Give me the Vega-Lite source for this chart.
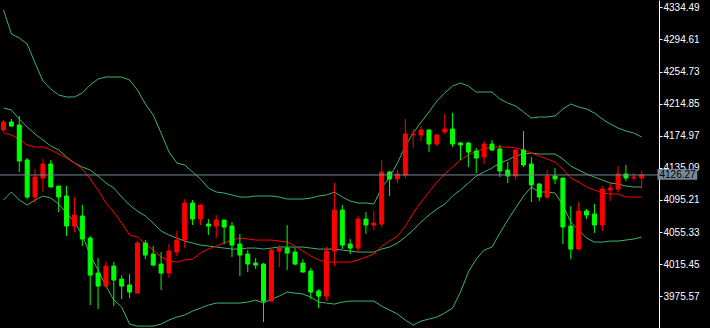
{
  "$schema": "https://vega.github.io/schema/vega-lite/v6.json",
  "width": 659,
  "height": 328,
  "autosize": {"type": "none"},
  "padding": {"left": 0, "top": 0, "right": 51, "bottom": 0},
  "background": "#000000",
  "config": {"view": {"stroke": null}, "axisY": {"labelOverlap": false, "labelBound": false, "labelFlush": false}},
  "datasets": {
    "bars": [
      {"i": -1, "o": 4182.10, "h": 4194.53, "l": 4179.62, "c": 4192.04, "u": 4331.14, "m": 4209.44, "lo": 4095.13, "ma": 4178.38},
      {"i": 0, "o": 4192.04, "h": 4195.77, "l": 4185.83, "c": 4187.07, "u": 4301.34, "m": 4206.95, "lo": 4105.07, "ma": 4175.89},
      {"i": 1, "o": 4188.31, "h": 4199.50, "l": 4129.92, "c": 4143.59, "u": 4296.37, "m": 4195.77, "lo": 4095.13, "ma": 4170.92},
      {"i": 2, "o": 4144.83, "h": 4147.31, "l": 4096.37, "c": 4098.86, "u": 4288.91, "m": 4185.83, "lo": 4088.92, "ma": 4163.47},
      {"i": 3, "o": 4098.86, "h": 4133.65, "l": 4091.40, "c": 4123.71, "u": 4265.32, "m": 4177.13, "lo": 4095.13, "ma": 4160.98},
      {"i": 4, "o": 4122.46, "h": 4146.07, "l": 4105.07, "c": 4139.86, "u": 4242.96, "m": 4169.68, "lo": 4100.10, "ma": 4160.98},
      {"i": 5, "o": 4139.86, "h": 4144.83, "l": 4111.28, "c": 4111.28, "u": 4233.03, "m": 4162.22, "lo": 4097.61, "ma": 4157.25},
      {"i": 6, "o": 4112.52, "h": 4112.52, "l": 4080.22, "c": 4098.86, "u": 4225.58, "m": 4157.25, "lo": 4090.16, "ma": 4152.28},
      {"i": 7, "o": 4100.10, "h": 4112.52, "l": 4050.40, "c": 4062.82, "u": 4223.10, "m": 4148.56, "lo": 4078.98, "ma": 4147.31},
      {"i": 8, "o": 4062.82, "h": 4098.86, "l": 4055.37, "c": 4076.49, "u": 4223.10, "m": 4141.10, "lo": 4067.79, "ma": 4141.10},
      {"i": 9, "o": 4075.25, "h": 4088.92, "l": 4037.97, "c": 4046.67, "u": 4228.06, "m": 4136.13, "lo": 4051.64, "ma": 4133.65},
      {"i": 10, "o": 4047.91, "h": 4050.40, "l": 3964.67, "c": 4001.94, "u": 4238.00, "m": 4132.40, "lo": 4026.79, "ma": 4121.22},
      {"i": 11, "o": 4004.43, "h": 4023.06, "l": 3959.70, "c": 3988.28, "u": 4245.45, "m": 4124.95, "lo": 4008.15, "ma": 4107.55},
      {"i": 12, "o": 3988.28, "h": 4019.34, "l": 3988.28, "c": 4013.12, "u": 4247.93, "m": 4116.25, "lo": 3988.28, "ma": 4091.40},
      {"i": 13, "o": 4013.12, "h": 4018.09, "l": 3963.43, "c": 3995.73, "u": 4247.93, "m": 4110.04, "lo": 3970.89, "ma": 4080.22},
      {"i": 14, "o": 3996.97, "h": 4001.94, "l": 3972.13, "c": 3988.28, "u": 4247.93, "m": 4098.86, "lo": 3962.19, "ma": 4066.55},
      {"i": 15, "o": 3989.52, "h": 4003.18, "l": 3973.37, "c": 3980.83, "u": 4244.21, "m": 4088.92, "lo": 3941.07, "ma": 4051.64},
      {"i": 16, "o": 3979.58, "h": 4044.19, "l": 3979.58, "c": 4041.70, "u": 4231.79, "m": 4081.46, "lo": 3938.58, "ma": 4049.16},
      {"i": 17, "o": 4041.70, "h": 4045.43, "l": 4021.82, "c": 4026.79, "u": 4214.40, "m": 4075.25, "lo": 3938.58, "ma": 4040.46},
      {"i": 18, "o": 4028.03, "h": 4037.97, "l": 4013.12, "c": 4014.37, "u": 4200.74, "m": 4066.55, "lo": 3938.58, "ma": 4033.00},
      {"i": 19, "o": 4015.61, "h": 4030.52, "l": 3983.31, "c": 4004.43, "u": 4178.38, "m": 4056.61, "lo": 3941.07, "ma": 4024.31},
      {"i": 20, "o": 4004.43, "h": 4040.46, "l": 3998.21, "c": 4031.76, "u": 4154.77, "m": 4051.64, "lo": 3946.04, "ma": 4019.34},
      {"i": 21, "o": 4030.52, "h": 4056.61, "l": 4025.55, "c": 4045.43, "u": 4141.10, "m": 4047.91, "lo": 3949.77, "ma": 4018.09},
      {"i": 22, "o": 4045.43, "h": 4096.37, "l": 4035.49, "c": 4091.40, "u": 4138.62, "m": 4044.19, "lo": 3952.25, "ma": 4020.58},
      {"i": 23, "o": 4091.40, "h": 4095.13, "l": 4064.07, "c": 4071.52, "u": 4129.92, "m": 4041.70, "lo": 3957.22, "ma": 4021.82},
      {"i": 24, "o": 4071.52, "h": 4090.16, "l": 4064.07, "c": 4088.92, "u": 4121.22, "m": 4039.22, "lo": 3960.95, "ma": 4029.28},
      {"i": 25, "o": 4065.31, "h": 4071.52, "l": 4051.64, "c": 4062.82, "u": 4110.04, "m": 4037.97, "lo": 3964.67, "ma": 4034.25},
      {"i": 26, "o": 4062.82, "h": 4076.49, "l": 4047.91, "c": 4070.28, "u": 4105.07, "m": 4036.73, "lo": 3967.16, "ma": 4037.97},
      {"i": 27, "o": 4070.28, "h": 4070.28, "l": 4040.46, "c": 4061.58, "u": 4103.83, "m": 4035.49, "lo": 3967.16, "ma": 4041.70},
      {"i": 28, "o": 4062.82, "h": 4067.79, "l": 4024.31, "c": 4039.22, "u": 4101.34, "m": 4034.25, "lo": 3967.16, "ma": 4045.43},
      {"i": 29, "o": 4040.46, "h": 4052.88, "l": 4000.70, "c": 4026.79, "u": 4098.86, "m": 4034.25, "lo": 3967.16, "ma": 4047.91},
      {"i": 30, "o": 4028.03, "h": 4033.00, "l": 4005.67, "c": 4015.61, "u": 4098.86, "m": 4035.49, "lo": 3968.40, "ma": 4046.67},
      {"i": 31, "o": 4016.85, "h": 4023.06, "l": 4009.40, "c": 4014.37, "u": 4100.10, "m": 4035.49, "lo": 3970.89, "ma": 4045.43},
      {"i": 32, "o": 4015.61, "h": 4016.85, "l": 3943.55, "c": 3969.64, "u": 4100.10, "m": 4034.25, "lo": 3967.16, "ma": 4045.43},
      {"i": 33, "o": 3969.64, "h": 4034.25, "l": 3969.64, "c": 4033.00, "u": 4100.10, "m": 4035.49, "lo": 3972.13, "ma": 4045.43},
      {"i": 34, "o": 4031.76, "h": 4039.22, "l": 4011.88, "c": 4035.49, "u": 4098.86, "m": 4036.73, "lo": 3975.86, "ma": 4044.19},
      {"i": 35, "o": 4035.49, "h": 4064.07, "l": 4008.15, "c": 4029.28, "u": 4096.37, "m": 4036.73, "lo": 3980.83, "ma": 4042.94},
      {"i": 36, "o": 4030.52, "h": 4035.49, "l": 4014.37, "c": 4015.61, "u": 4096.37, "m": 4036.73, "lo": 3979.58, "ma": 4037.97},
      {"i": 37, "o": 4016.85, "h": 4021.82, "l": 4005.67, "c": 4005.67, "u": 4096.37, "m": 4036.73, "lo": 3978.34, "ma": 4031.76},
      {"i": 38, "o": 4006.91, "h": 4010.64, "l": 3972.13, "c": 3980.83, "u": 4097.61, "m": 4035.49, "lo": 3974.61, "ma": 4025.55},
      {"i": 39, "o": 3982.07, "h": 3984.55, "l": 3960.95, "c": 3975.86, "u": 4100.10, "m": 4034.25, "lo": 3968.40, "ma": 4020.58},
      {"i": 40, "o": 3975.86, "h": 4036.73, "l": 3969.64, "c": 4031.76, "u": 4101.34, "m": 4034.25, "lo": 3967.16, "ma": 4018.09},
      {"i": 41, "o": 4031.76, "h": 4116.25, "l": 4013.12, "c": 4082.70, "u": 4105.07, "m": 4034.25, "lo": 3965.92, "ma": 4018.09},
      {"i": 42, "o": 4082.70, "h": 4088.92, "l": 4034.25, "c": 4039.22, "u": 4098.86, "m": 4033.00, "lo": 3968.40, "ma": 4018.09},
      {"i": 43, "o": 4040.46, "h": 4046.67, "l": 4028.03, "c": 4035.49, "u": 4093.89, "m": 4031.76, "lo": 3969.64, "ma": 4018.09},
      {"i": 44, "o": 4035.49, "h": 4075.25, "l": 4030.52, "c": 4071.52, "u": 4091.40, "m": 4030.52, "lo": 3969.64, "ma": 4020.58},
      {"i": 45, "o": 4071.52, "h": 4080.22, "l": 4052.88, "c": 4064.07, "u": 4091.40, "m": 4030.52, "lo": 3969.64, "ma": 4024.31},
      {"i": 46, "o": 4064.07, "h": 4081.46, "l": 4057.85, "c": 4066.55, "u": 4090.16, "m": 4030.52, "lo": 3969.64, "ma": 4028.03},
      {"i": 47, "o": 4065.31, "h": 4144.83, "l": 4061.58, "c": 4129.92, "u": 4110.04, "m": 4034.25, "lo": 3963.43, "ma": 4037.97},
      {"i": 48, "o": 4129.92, "h": 4131.16, "l": 4100.10, "c": 4121.22, "u": 4123.71, "m": 4036.73, "lo": 3958.46, "ma": 4044.19},
      {"i": 49, "o": 4121.22, "h": 4132.40, "l": 4116.25, "c": 4127.43, "u": 4141.10, "m": 4041.70, "lo": 3953.49, "ma": 4050.40},
      {"i": 50, "o": 4126.19, "h": 4195.77, "l": 4122.46, "c": 4177.13, "u": 4162.22, "m": 4049.16, "lo": 3946.04, "ma": 4062.82},
      {"i": 51, "o": 4175.89, "h": 4183.35, "l": 4159.74, "c": 4177.13, "u": 4178.38, "m": 4057.85, "lo": 3939.83, "ma": 4078.98},
      {"i": 52, "o": 4175.89, "h": 4187.07, "l": 4168.44, "c": 4182.10, "u": 4192.04, "m": 4067.79, "lo": 3944.80, "ma": 4092.64},
      {"i": 53, "o": 4182.10, "h": 4183.35, "l": 4154.77, "c": 4164.71, "u": 4204.47, "m": 4076.49, "lo": 3947.28, "ma": 4105.07},
      {"i": 54, "o": 4164.71, "h": 4177.13, "l": 4162.22, "c": 4175.89, "u": 4218.13, "m": 4083.95, "lo": 3949.77, "ma": 4117.49},
      {"i": 55, "o": 4179.62, "h": 4201.98, "l": 4177.13, "c": 4183.35, "u": 4228.06, "m": 4090.16, "lo": 3954.73, "ma": 4127.43},
      {"i": 56, "o": 4183.35, "h": 4203.22, "l": 4160.98, "c": 4164.71, "u": 4236.75, "m": 4100.10, "lo": 3960.95, "ma": 4136.13},
      {"i": 57, "o": 4165.95, "h": 4167.19, "l": 4144.83, "c": 4163.47, "u": 4240.48, "m": 4107.55, "lo": 3980.83, "ma": 4144.83},
      {"i": 58, "o": 4165.95, "h": 4167.19, "l": 4136.13, "c": 4154.77, "u": 4236.75, "m": 4116.25, "lo": 4005.67, "ma": 4151.04},
      {"i": 59, "o": 4156.01, "h": 4159.74, "l": 4128.68, "c": 4147.31, "u": 4229.30, "m": 4124.95, "lo": 4021.82, "ma": 4156.01},
      {"i": 60, "o": 4148.56, "h": 4168.44, "l": 4139.86, "c": 4164.71, "u": 4229.30, "m": 4129.92, "lo": 4033.00, "ma": 4158.50},
      {"i": 61, "o": 4164.71, "h": 4169.68, "l": 4156.01, "c": 4157.25, "u": 4229.30, "m": 4134.89, "lo": 4036.73, "ma": 4160.98},
      {"i": 62, "o": 4158.50, "h": 4163.47, "l": 4123.71, "c": 4131.16, "u": 4220.61, "m": 4141.10, "lo": 4054.13, "ma": 4160.98},
      {"i": 63, "o": 4132.40, "h": 4142.34, "l": 4116.25, "c": 4124.95, "u": 4215.64, "m": 4144.83, "lo": 4070.28, "ma": 4160.98},
      {"i": 64, "o": 4124.95, "h": 4158.50, "l": 4119.98, "c": 4157.25, "u": 4211.92, "m": 4149.80, "lo": 4085.19, "ma": 4159.74},
      {"i": 65, "o": 4157.25, "h": 4180.86, "l": 4136.13, "c": 4138.62, "u": 4204.47, "m": 4152.28, "lo": 4100.10, "ma": 4157.25},
      {"i": 66, "o": 4139.86, "h": 4148.56, "l": 4092.64, "c": 4113.77, "u": 4197.01, "m": 4153.53, "lo": 4111.28, "ma": 4153.53},
      {"i": 67, "o": 4115.01, "h": 4116.25, "l": 4093.89, "c": 4098.86, "u": 4198.25, "m": 4152.28, "lo": 4105.07, "ma": 4149.80},
      {"i": 68, "o": 4098.86, "h": 4132.40, "l": 4096.37, "c": 4124.95, "u": 4198.25, "m": 4152.28, "lo": 4105.07, "ma": 4146.07},
      {"i": 69, "o": 4124.95, "h": 4134.89, "l": 4115.01, "c": 4121.22, "u": 4199.50, "m": 4152.28, "lo": 4103.83, "ma": 4142.34},
      {"i": 70, "o": 4122.46, "h": 4122.46, "l": 4040.46, "c": 4061.58, "u": 4208.19, "m": 4146.07, "lo": 4088.92, "ma": 4133.65},
      {"i": 71, "o": 4062.82, "h": 4087.67, "l": 4021.82, "c": 4034.25, "u": 4214.40, "m": 4137.37, "lo": 4067.79, "ma": 4122.46},
      {"i": 72, "o": 4034.25, "h": 4092.64, "l": 4033.00, "c": 4081.46, "u": 4210.68, "m": 4132.40, "lo": 4057.85, "ma": 4117.49},
      {"i": 73, "o": 4081.46, "h": 4083.95, "l": 4071.52, "c": 4076.49, "u": 4208.19, "m": 4127.43, "lo": 4047.91, "ma": 4111.28},
      {"i": 74, "o": 4077.73, "h": 4090.16, "l": 4054.13, "c": 4064.07, "u": 4203.22, "m": 4123.71, "lo": 4042.94, "ma": 4107.55},
      {"i": 75, "o": 4064.07, "h": 4112.52, "l": 4056.61, "c": 4108.80, "u": 4195.77, "m": 4119.98, "lo": 4042.94, "ma": 4103.83},
      {"i": 76, "o": 4107.55, "h": 4117.49, "l": 4093.89, "c": 4110.04, "u": 4189.56, "m": 4116.25, "lo": 4044.19, "ma": 4102.58},
      {"i": 77, "o": 4108.80, "h": 4137.37, "l": 4105.07, "c": 4127.43, "u": 4184.59, "m": 4115.01, "lo": 4044.19, "ma": 4102.58},
      {"i": 78, "o": 4127.43, "h": 4138.62, "l": 4118.74, "c": 4122.46, "u": 4180.86, "m": 4112.52, "lo": 4045.43, "ma": 4098.86},
      {"i": 79, "o": 4122.46, "h": 4128.68, "l": 4119.98, "c": 4123.71, "u": 4178.38, "m": 4111.28, "lo": 4046.67, "ma": 4098.86},
      {"i": 80, "o": 4122.46, "h": 4131.16, "l": 4108.80, "c": 4126.27, "u": 4173.41, "m": 4111.28, "lo": 4049.16, "ma": 4098.86}
    ],
    "last": [{"price": 4126.27, "label": "4126.27", "from": 82.0, "to": 87.05, "top": 4133.6, "bottom": 4120.4}]
  },
  "layer": [
    {
      "data": {"name": "bars"},
      "encoding": {
        "x": {"field": "i", "type": "quantitative", "scale": {"domain": [-0.8125, 81.5625], "nice": false, "zero": false}, "axis": null}
      },
      "layer": [
        {
          "mark": {"type": "line", "color": "#3CB371", "strokeWidth": 1, "clip": true},
          "encoding": {"y": {"field": "u", "type": "quantitative", "scale": {"domain": [3936.2, 4343.56], "nice": false, "zero": false},
            "axis": {"orient": "right", "values": [4334.49, 4294.61, 4254.73, 4214.85, 4174.97, 4135.09, 4095.21, 4055.33, 4015.45, 3975.57], "tickCount": 30, "format": ".2f", "title": null, "grid": false, "domainColor": "#FFFFFF", "domainWidth": 1, "tickColor": "#FFFFFF", "tickSize": 3, "labelColor": "#FFFFFF", "labelFont": "Liberation Sans", "labelFontSize": 10, "labelPadding": 1, "labelOverlap": false, "labelBound": false, "labelFlush": false, "zindex": 0}}}
        },
        {
          "mark": {"type": "line", "color": "#3CB371", "strokeWidth": 1, "clip": true},
          "encoding": {"y": {"field": "m", "type": "quantitative"}}
        },
        {
          "mark": {"type": "line", "color": "#3CB371", "strokeWidth": 1, "clip": true},
          "encoding": {"y": {"field": "lo", "type": "quantitative"}}
        },
        {
          "mark": {"type": "line", "color": "#FF0000", "strokeWidth": 1, "clip": true},
          "encoding": {"y": {"field": "ma", "type": "quantitative"}}
        },
        {
          "mark": {"type": "rule", "strokeWidth": 1, "clip": true},
          "encoding": {
            "y": {"field": "l", "type": "quantitative"},
            "y2": {"field": "h"},
            "color": {"condition": {"test": "datum.c > datum.o", "value": "#FF0000"}, "value": "#00FF00"}
          }
        },
        {
          "mark": {"type": "bar", "width": 4, "strokeWidth": 1, "clip": true},
          "encoding": {
            "y": {"field": "o", "type": "quantitative"},
            "y2": {"field": "c"},
            "color": {"condition": {"test": "datum.c > datum.o", "value": "#FF0000"}, "value": "#00FF00"},
            "stroke": {"condition": {"test": "datum.c > datum.o", "value": "#FF0000"}, "value": "#00FF00"}
          }
        }
      ]
    },
    {
      "data": {"name": "last"},
      "mark": {"type": "rule", "color": "#778899", "strokeWidth": 1, "clip": true},
      "encoding": {"y": {"field": "price", "type": "quantitative"}}
    },
    {
      "data": {"name": "last"},
      "mark": {"type": "rect", "color": "#778899", "clip": false},
      "encoding": {
        "x": {"field": "from", "type": "quantitative"},
        "x2": {"field": "to"},
        "y": {"field": "top", "type": "quantitative"},
        "y2": {"field": "bottom"}
      }
    },
    {
      "data": {"name": "last"},
      "mark": {"type": "text", "color": "#000000", "font": "Liberation Sans", "fontSize": 10, "align": "left", "baseline": "middle", "dx": 2, "clip": false},
      "encoding": {
        "x": {"field": "from", "type": "quantitative"},
        "y": {"field": "price", "type": "quantitative"},
        "text": {"field": "label"}
      }
    }
  ]
}
